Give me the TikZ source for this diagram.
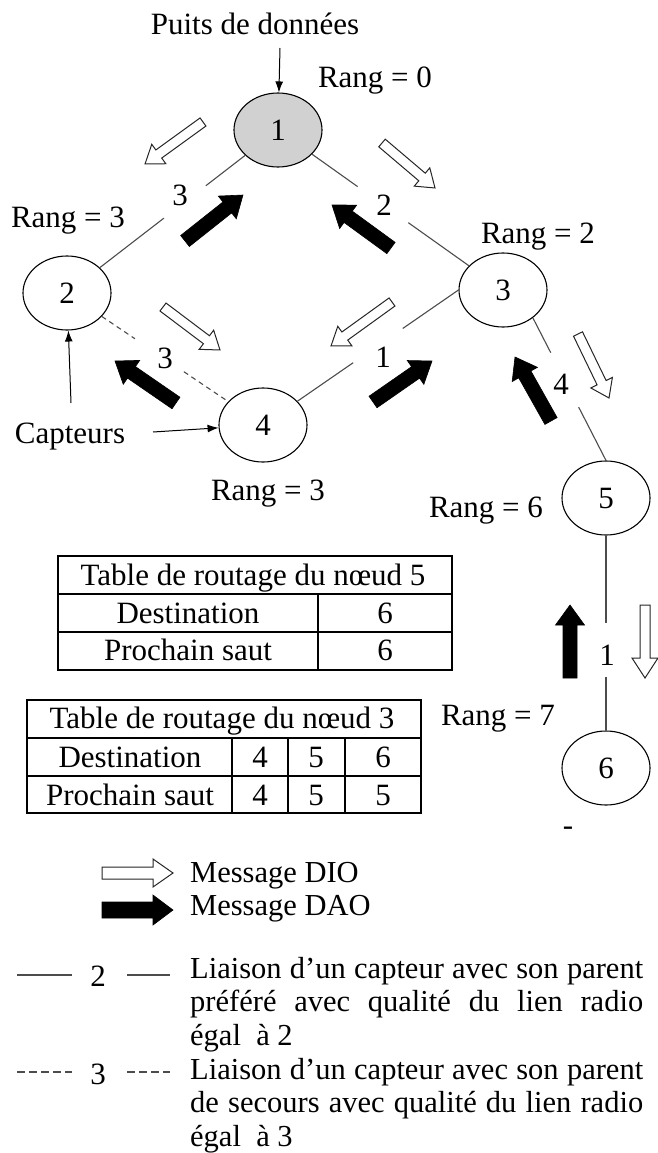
\documentclass[tikz,border=0pt]{standalone}
\usepackage{fontspec}
\setmainfont{Liberation Serif}
\usetikzlibrary{shapes.geometric,arrows.meta}

% Block arrow from (#2,#3) to (#4,#5): shaft width #6, head width #7, head length #8
\newcommand\blockarrow[8]{%
  \pgfmathsetmacro\baang{atan2(#3-#5,#4-#2)}%
  \pgfmathsetmacro\balen{veclen(#4-#2,#5-#3)}%
  \pgfmathsetmacro\babase{\balen-#8}%
  \begin{scope}[shift={(#2,#3)},rotate=\baang]
    \draw[#1] (0,-#6/2) -- (\babase,-#6/2) -- (\babase,-#7/2) -- (\balen,0)
      -- (\babase,#7/2) -- (\babase,#6/2) -- (0,#6/2) -- cycle;
  \end{scope}}

% one justified line of the legend
\newcommand\fullline[1]{\makebox[453pt][s]{#1}}

\begin{document}
\begin{tikzpicture}[x=1pt,y=-1pt,
  every node/.style={inner sep=0pt},
  txt/.style={font=\fontsize{31}{36}\selectfont},
  sensor/.style={ellipse, draw, line width=1.1pt, minimum width=88pt,
    minimum height=74pt, font=\fontsize{31}{36}\selectfont},
  sink/.style={sensor, fill=black!18},
  link/.style={line width=1.1pt, draw=black!70},
  backup/.style={link, dash pattern=on 5pt off 4pt},
  legbackup/.style={link, line width=1.4pt, dash pattern=on 8pt off 4pt},
  gapnode/.style={circle, fill=white, minimum size=#1},
  pointer/.style={line width=1pt, -{Latex[length=11pt,width=8pt]}},
  dio/.style={draw=black!85, fill=white, line width=1pt, line join=miter},
  dao/.style={draw=black, fill=black, line width=0.6pt},
  grid/.style={line width=1.3pt},
  legtext/.style={anchor=north west, align=left,
    font=\fontsize{30.5}{33.5}\selectfont},
]
\useasboundingbox (0,0) rectangle (657,1153);

% sensors
\node[sink]   (n1) at (278,130) {1};
\node[sensor] (n2) at (67,293)  {2};
\node[sensor] (n3) at (503,290) {3};
\node[sensor] (n4) at (263,425) {4};
\node[sensor] (n5) at (606,498) {5};
\node[sensor] (n6) at (606,768) {6};

% radio links, broken around their quality labels
\draw[link]   (n1) -- node[gapnode=53, pos=0.415] (g12) {} (n2);
\draw[link]   (n1) -- node[gapnode=62, pos=0.452] (g13) {} (n3);
\draw[backup] (n2) -- node[gapnode=58, pos=0.453] (g24) {} (n4);
\draw[link]   (n4) -- node[gapnode=60, pos=0.5]   (g43) {} (n3.west);
\draw[link]   (n3.-43) -- node[gapnode=61, pos=0.435] (g35) {} (n5.north);
\draw[link]   (n5) -- node[gapnode=54, pos=0.587] (g56) {} (n6);

\node[txt] (q12) at (180,195) {3};
\node[txt] (q13) at (384,205) {2};
\node[txt] (q24) at (165,358) {3};
\node[txt] (q43) at (383,357) {1};
\node[txt] (q35) at (561,384) {4};
\node[txt] (q56) at (607,655) {1};

% labels
\node[txt, anchor=base] (puits) at (255,35) {Puits de données};
\coordinate (puitsend) at (280,48);
\draw[pointer] (puitsend) -- (n1);
\node[txt, anchor=base] (r1) at (375,88)  {Rang = 0};
\node[txt, anchor=base] (r2) at (68,227)  {Rang = 3};
\node[txt, anchor=base] (r3) at (538,243) {Rang = 2};
\node[txt, anchor=base] (r4) at (268,500) {Rang = 3};
\node[txt, anchor=base] (r5) at (486,517) {Rang = 6};
\node[txt, anchor=base] (r6) at (498,725) {Rang = 7};
\node[txt, anchor=base] (capt) at (70,443) {Capteurs};
\coordinate (capt2) at (71,403);
\coordinate (capt4) at (153,432);
\draw[pointer] (capt2) -- (n2);
\draw[pointer] (capt4) -- (n4);
\node[txt] (dash) at (568,831) {-};

% DIO messages (downward)
\blockarrow{dio}{203}{122}{145}{164}{10}{24}{17}
\blockarrow{dio}{382}{143}{435}{188}{10}{24}{17}
\blockarrow{dio}{163}{307}{220}{350}{10}{24}{17}
\blockarrow{dio}{392}{302}{331}{346}{10}{24}{17}
\blockarrow{dio}{578}{334}{609}{398}{10}{24}{17}
\blockarrow{dio}{645}{605}{645}{678}{10}{26}{20}
% DAO messages (upward)
\blockarrow{dao}{185}{241}{243}{195}{14}{29}{20}
\blockarrow{dao}{391}{248}{332}{205}{14}{29}{20}
\blockarrow{dao}{176}{403}{115}{361}{14}{29}{20}
\blockarrow{dao}{373}{402}{432}{361}{14}{29}{20}
\blockarrow{dao}{551}{421}{515}{357}{14}{29}{20}
\blockarrow{dao}{570}{678}{570}{605}{14}{29}{20}

% routing table of node 5
\draw[grid] (58,556) rectangle (452,670);
\draw[grid] (58,594) -- (452,594) (58,632) -- (452,632) (318,594) -- (318,670);
\node[txt, anchor=base] (t5h)  at (253,585) {Table de routage du nœud 5};
\node[txt, anchor=base] (t5d)  at (188,623) {Destination};
\node[txt, anchor=base] (t5d1) at (385,623) {6};
\node[txt, anchor=base] (t5p)  at (188,660) {Prochain saut};
\node[txt, anchor=base] (t5p1) at (385,660) {6};

% routing table of node 3
\draw[grid] (27,700) rectangle (421,813);
\draw[grid] (27,738) -- (421,738) (27,776) -- (421,776)
  (232,738) -- (232,813) (288,738) -- (288,813) (345,738) -- (345,813);
\node[txt, anchor=base] (t3h)  at (222,728) {Table de routage du nœud 3};
\node[txt, anchor=base] (t3d)  at (130,767) {Destination};
\node[txt, anchor=base] (t3d1) at (260,767) {4};
\node[txt, anchor=base] (t3d2) at (316,767) {5};
\node[txt, anchor=base] (t3d3) at (383,767) {6};
\node[txt, anchor=base] (t3p)  at (130,805) {Prochain saut};
\node[txt, anchor=base] (t3p1) at (260,805) {4};
\node[txt, anchor=base] (t3p2) at (316,805) {5};
\node[txt, anchor=base] (t3p3) at (383,805) {5};

% legend
\blockarrow{dio}{102}{873}{173}{873}{12}{28}{20}
\blockarrow{dao}{102}{910}{173}{910}{16}{30}{20}
\node[txt, anchor=base west, font=\fontsize{30.5}{33.5}\selectfont] (ldio) at (190,882) {Message DIO};
\node[txt, anchor=base west, font=\fontsize{30.5}{33.5}\selectfont] (ldao) at (190,915) {Message DAO};

\draw[link, line width=1.4pt] (17,975) -- (72,975) (127,975) -- (170,975);
\node[txt] (l2) at (98,976) {2};
\draw[legbackup] (17,1072) -- (72,1072) (127,1072) -- (170,1072);
\node[txt] (l3) at (98,1074) {3};

\node[legtext] (lpref) at (190,957)
  {\fullline{Liaison d’un capteur avec son parent}\\
   \fullline{préféré avec qualité du lien radio}\\
   égal\ \ à 2};
\node[legtext] (lsec) at (190,1058)
  {\fullline{Liaison d’un capteur avec son parent}\\
   \fullline{de secours avec qualité du lien radio}\\
   égal\ \ à 3};
\end{tikzpicture}
\end{document}
